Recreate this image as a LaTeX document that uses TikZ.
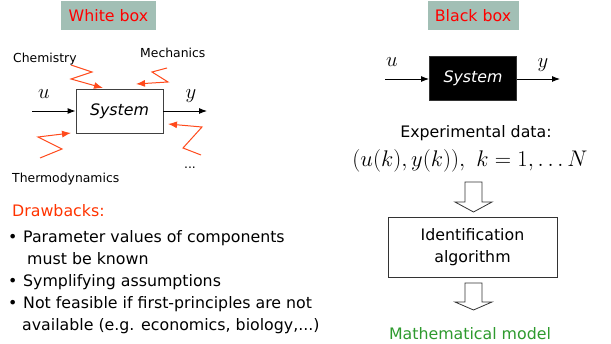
\documentclass[tikz,border=0pt]{standalone}
\usepackage{graphicx}
\usepackage{fontspec}
\setmainfont{DejaVu Sans}
\usetikzlibrary{arrows.meta}
\definecolor{labelbg}{HTML}{A2BFB5}
\definecolor{zz}{HTML}{FF4A1C}
\definecolor{drawred}{HTML}{FF3300}
\definecolor{mgreen}{HTML}{2E9A2E}
\begin{document}
\begin{tikzpicture}[x=1pt,y=-1pt,
  big/.style={font=\fontsize{15.8}{22}\selectfont},
  small/.style={font=\fontsize{12.4}{15}\selectfont},
  tag/.style={fill=labelbg, text=red, minimum height=29pt, inner sep=0pt, big},
  sysbox/.style={draw=black!75, line width=0.9pt, fill=white, minimum width=87pt, minimum height=44pt, inner sep=0pt, big},
  sig/.style={-{Latex[length=8pt,width=6pt]}, line width=0.9pt},
  zig/.style={draw=zz, line width=1pt, -{Latex[length=9pt,width=7pt]}},
  hollow/.style={draw=black!80, line width=0.8pt, fill=white},
  mathlbl/.style={font=\fontsize{21}{25}\selectfont, inner sep=0pt, anchor=base},
  lbl/.style={inner sep=0pt, anchor=base west}
]
\useasboundingbox (0,0) rectangle (611,344);

% ---------- White box ----------
\node[tag, minimum width=95pt] (wb) at (108.5,15.5) {White box};
\node[sysbox] (ws) at (119.5,111) {\itshape System};
\coordinate (win) at (32,111);
\coordinate (wout) at (207,111);
\draw[sig] (win) -- (ws.west);
\draw[sig] (ws.east) -- (wout);
\node[mathlbl] (wu) at (44,99) {$u$};
\node[mathlbl] (wy) at (191,99) {$y$};

\coordinate (z1) at (71,65);
\coordinate (z2) at (167,68);
\coordinate (z3) at (40,158);
\coordinate (z4) at (201,155);
\draw[zig] (z1) -- (92,72) -- (71,79) -- (103,88);
\draw[zig] (z2) -- (152,72) -- (168,82) -- (136,84);
\draw[zig] (z3) -- (62,149) -- (38,137) -- (71,133);
\draw[zig] (z4) -- (183,148) -- (202,127) -- (168,124);

\node[small,lbl] (chem) at (13,63) {Chemistry};
\node[small,lbl] (mech) at (140,58) {Mechanics};
\node[small,lbl] (thermo) at (12,183) {Thermodynamics};
\node[small,inner sep=0pt,anchor=base] (dots) at (190,169) {...};

\node[big,lbl,text=drawred] (dh) at (12,217) {Drawbacks:};
\node[big,lbl] (b1) at (8,243) {•};
\node[big,lbl] (t1) at (23,243) {Parameter values of components};
\node[big,lbl] (t1b) at (27,265) {must be known};
\node[big,lbl] (b2) at (8,287) {•};
\node[big,lbl] (t2) at (23,287) {Symplifying assumptions};
\node[big,lbl] (b3) at (8,309) {•};
\node[big,lbl] (t3) at (23,309) {Not feasible if first-principles are not};
\node[big,lbl] (t3b) at (22,331) {available (e.g. economics, biology,...)};

% ---------- Black box ----------
\node[tag, minimum width=91pt] (bb) at (473,15.5) {Black box};
\node[sysbox, fill=black, draw=black!80, text=white] (bs) at (473,78) {\itshape System};
\coordinate (bin) at (385,79);
\coordinate (bout) at (560,79);
\draw[sig] (bin) -- (bs.west |- bin);
\draw[sig] (bs.east |- bout) -- (bout);
\node[mathlbl] (bu) at (392,67) {$u$};
\node[mathlbl] (by) at (543,68) {$y$};

\node[big,inner sep=0pt,anchor=base] (exp) at (476,138) {Experimental data:};
\node[mathlbl] (form) at (470,167) {\scalebox{1.09}{$(u(k),y(k)),\ k=1,\dots N$}};

\draw[hollow] (465,182) -- (465,202) -- (455,202) -- (473.5,212) -- (492,202) -- (482,202) -- (482,182) -- cycle;
\node[draw=black!80, line width=0.8pt, minimum width=169pt, minimum height=60pt, align=center, big, inner sep=0pt] (id) at (472.5,247) {Identification\\algorithm};
\draw[hollow] (465,283) -- (465,302) -- (455,302) -- (473.5,310) -- (492,302) -- (482,302) -- (482,283) -- cycle;
\node[big,inner sep=0pt,anchor=base,text=mgreen] (mm) at (470,340) {Mathematical model};
\end{tikzpicture}
\end{document}
